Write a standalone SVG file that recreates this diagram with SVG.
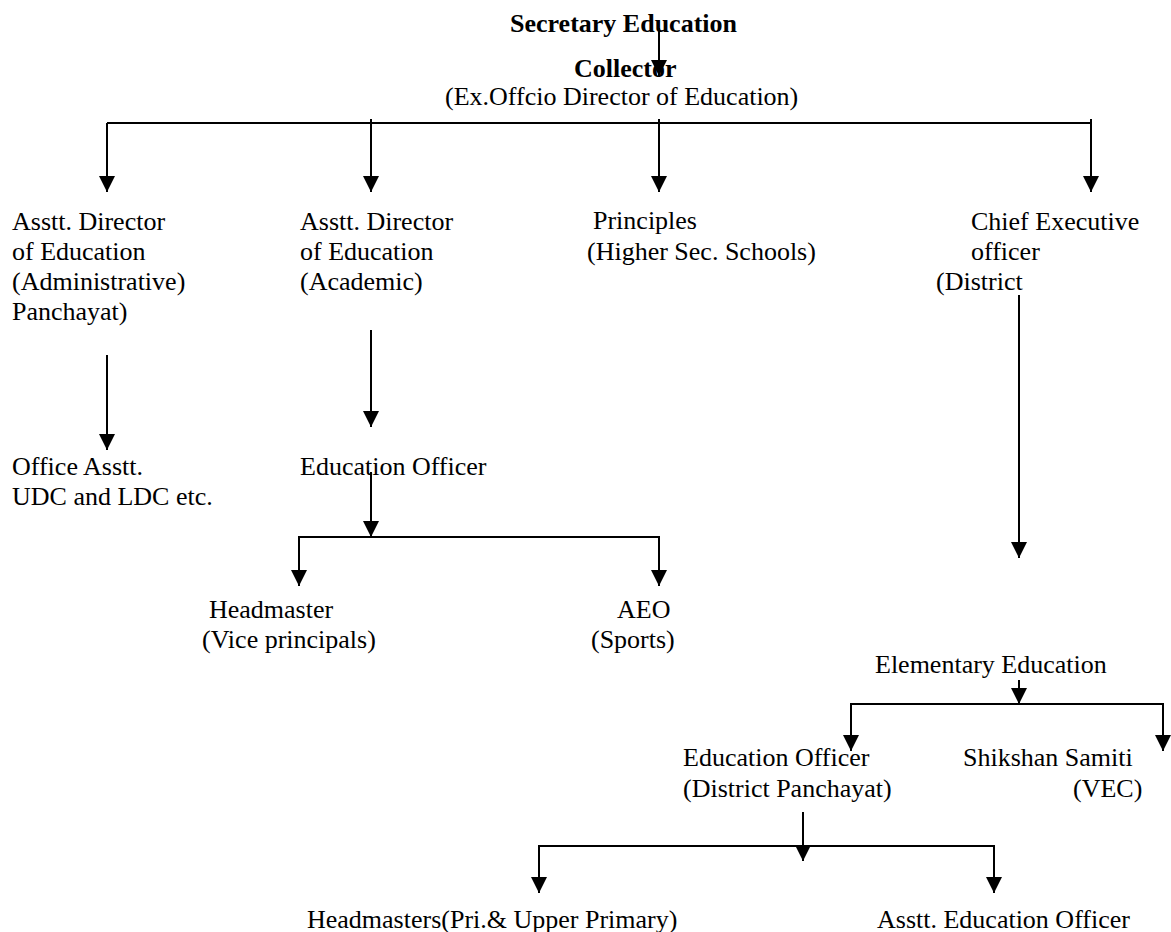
<svg xmlns="http://www.w3.org/2000/svg" width="1171" height="932" viewBox="0 0 1171 932">
<style>
text{font-family:"Liberation Serif","Times New Roman",serif;font-size:26px;fill:#000}
.b{font-weight:bold}
.c line,.c polyline{stroke:#000;stroke-width:2;fill:none}
</style>
<defs>
<marker id="ah" markerUnits="userSpaceOnUse" markerWidth="16" markerHeight="16" viewBox="0 0 16 16" refX="16" refY="8" orient="auto">
<path d="M0,0 L16,8 L0,16 z" fill="#000"/>
</marker>
</defs>
<rect width="1171" height="932" fill="#fff"/>
<g id="secretary"><text class="b" x="510" y="32">Secretary Education</text></g>
<g id="collector"><text class="b" x="574" y="77">Collector</text><text x="445" y="105">(Ex.Offcio Director of Education)</text></g>
<g id="asst-admin"><text x="12" y="230">Asstt. Director</text><text x="12" y="260">of Education</text><text x="12" y="290">(Administrative)</text><text x="12" y="320">Panchayat)</text></g>
<g id="asst-academic"><text x="300" y="230">Asstt. Director</text><text x="300" y="260">of Education</text><text x="300" y="290">(Academic)</text></g>
<g id="principles"><text x="593" y="229">Principles</text><text x="587" y="260">(Higher Sec. Schools)</text></g>
<g id="ceo"><text x="971" y="230">Chief Executive</text><text x="971" y="260">officer</text><text x="936" y="290">(District</text></g>
<g id="office-asst"><text x="12" y="475">Office Asstt.</text><text x="12" y="505">UDC and LDC etc.</text></g>
<g id="edu-officer"><text x="300" y="475">Education Officer</text></g>
<g id="headmaster"><text x="209" y="618">Headmaster</text><text x="202" y="648">(Vice principals)</text></g>
<g id="aeo"><text x="617" y="618">AEO</text><text x="591" y="648">(Sports)</text></g>
<g id="elementary"><text x="875" y="673">Elementary Education</text></g>
<g id="edu-officer-dp"><text x="683" y="766">Education Officer</text><text x="683" y="797">(District Panchayat)</text></g>
<g id="shikshan"><text x="963" y="766">Shikshan Samiti</text><text x="1073" y="797">(VEC)</text></g>
<g id="headmasters-pri"><text x="307" y="928">Headmasters(Pri.&amp; Upper Primary)</text></g>
<g id="asst-edu-officer"><text x="877" y="928">Asstt. Education Officer</text></g>
<g id="connectors" class="c">
<line x1="659" y1="28" x2="659" y2="76" marker-end="url(#ah)"/>
<line x1="107" y1="123" x2="1091" y2="123"/>
<line x1="107" y1="123" x2="107" y2="192" marker-end="url(#ah)"/>
<line x1="371" y1="119" x2="371" y2="192" marker-end="url(#ah)"/>
<line x1="659" y1="119" x2="659" y2="192" marker-end="url(#ah)"/>
<line x1="1091" y1="119" x2="1091" y2="192" marker-end="url(#ah)"/>
<line x1="107" y1="355" x2="107" y2="450" marker-end="url(#ah)"/>
<line x1="371" y1="330" x2="371" y2="427" marker-end="url(#ah)"/>
<line x1="371" y1="472" x2="371" y2="537" marker-end="url(#ah)"/>
<polyline points="299,580 299,537 659,537 659,580"/>
<line x1="299" y1="540" x2="299" y2="586" marker-end="url(#ah)"/>
<line x1="659" y1="540" x2="659" y2="586" marker-end="url(#ah)"/>
<line x1="1019" y1="295" x2="1019" y2="558" marker-end="url(#ah)"/>
<line x1="1019" y1="680" x2="1019" y2="704" marker-end="url(#ah)"/>
<polyline points="851,740 851,704 1163,704 1163,740"/>
<line x1="851" y1="708" x2="851" y2="751" marker-end="url(#ah)"/>
<line x1="1163" y1="708" x2="1163" y2="751" marker-end="url(#ah)"/>
<line x1="803" y1="812" x2="803" y2="861" marker-end="url(#ah)"/>
<polyline points="539,880 539,846 994,846 994,880"/>
<line x1="539" y1="850" x2="539" y2="893" marker-end="url(#ah)"/>
<line x1="994" y1="850" x2="994" y2="893" marker-end="url(#ah)"/>
</g>
</svg>
